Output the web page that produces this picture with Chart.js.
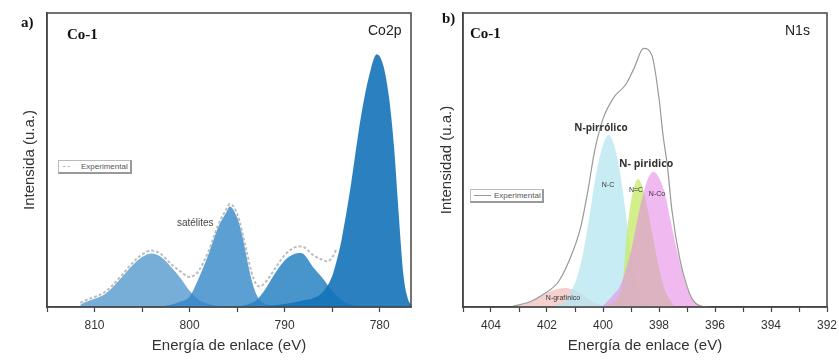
<!DOCTYPE html>
<html>
<head>
<meta charset="utf-8">
<script src="https://cdn.jsdelivr.net/npm/chart.js@4.4.1/dist/chart.umd.min.js"></script>
<style>
  body { margin: 0; background: #fff; }
  #page { position: relative; width: 839px; height: 360px; overflow: hidden; font-family: 'Liberation Sans', Arial, sans-serif; }
  canvas { position: absolute; top: 0; }
  .tag { position: absolute; white-space: nowrap; line-height: 1; }
  .serif { font-family: 'Liberation Serif', 'Times New Roman', serif; font-weight: bold; color: #111; }
  .legend { position: absolute; height: 11px; border: 1px solid #bbb; border-right: 2px solid #999; border-bottom: 2px solid #999; background: #fff; font-size: 8px; color: #555; }
  .legend span { position: absolute; top: 1px; }
  .legend i { position: absolute; top: 5px; height: 0; }
</style>
</head>
<body>
<div id="page">
  <canvas id="co2pChart" width="420" height="360" style="left:0"></canvas>
  <canvas id="n1sChart" width="419" height="360" style="left:420px"></canvas>

  <div class="tag serif" style="left:21px;top:15px;font-size:15px">a)</div>
  <div class="tag serif" style="left:67px;top:27px;font-size:15px">Co-1</div>
  <div class="tag" style="left:368px;top:23px;font-size:14px;color:#222">Co2p</div>
  <div class="legend" style="left:58px;top:160px;width:71px">
    <i style="left:4px;width:7px;border-top:1px dashed #bbb"></i><span style="left:22px">Experimental</span>
  </div>

  <div class="tag serif" style="left:442px;top:11px;font-size:15px">b)</div>
  <div class="tag serif" style="left:470px;top:26px;font-size:15px">Co-1</div>
  <div class="tag" style="left:785px;top:23px;font-size:14px;color:#222">N1s</div>
  <div class="legend" style="left:470px;top:189px;width:71px">
    <i style="left:3px;width:17px;border-top:1px solid #999"></i><span style="left:23px">Experimental</span>
  </div>
</div>
<script>
// Co2p (panel a) - binding energy (eV) and intensity (a.u.)
const co2pExpE = [811.5, 811, 810, 809, 808, 807, 806, 805, 804, 803, 802, 801, 800.3, 800, 799.5, 799, 798, 797, 796, 795.8, 795, 794, 793.5, 793, 792.6, 792, 791, 790, 789, 788.4, 788, 787, 786, 785.5, 785, 784.5];
const co2pExpI = [1.4, 2.2, 3.4, 4.9, 7.7, 11.3, 15.0, 17.9, 19.2, 18.0, 14.8, 12.2, 10.5, 10.2, 10.8, 12.5, 19.0, 27.8, 34.0, 35.0, 31.8, 19.0, 12.0, 7.8, 7.0, 8.5, 13.1, 17.6, 20.2, 20.6, 20.4, 17.7, 16.0, 15.5, 16.8, 20.0];

const sat1E = [811.5, 811, 810, 809, 808, 807, 806, 805, 804, 803, 802, 801, 800, 799, 798, 797, 796];
const sat1I = [0.8, 1.6, 2.8, 4.2, 7.0, 10.6, 14.2, 17.0, 18.2, 17.0, 13.8, 10.0, 5.5, 2.4, 1.0, 0.3, 0];

const p2E = [803, 802, 801, 800, 799, 798, 797, 796, 795.8, 795, 794.5, 794, 793.5, 793, 792.5, 792, 791, 790];
const p2I = [0.2, 0.8, 1.8, 3.5, 10.0, 18.0, 27.0, 33.0, 34.2, 30.5, 25.0, 17.0, 9.5, 4.5, 2.0, 1.0, 0.2, 0];

const sat2E = [795, 794, 793, 792.5, 792, 791, 790, 789, 788.4, 788, 787, 786, 785, 784, 783, 782, 781];
const sat2I = [0.2, 0.8, 2.2, 4.0, 6.2, 11.5, 15.8, 18.0, 18.4, 18.0, 13.5, 9.8, 5.5, 2.3, 0.8, 0.2, 0];

const p4E = [793, 791, 789, 788, 787, 786, 785, 784.5, 784, 783, 782, 781, 780.3, 779.6, 779, 778.5, 778, 777.5, 777, 776.7];
const p4I = [0.2, 0.6, 1.5, 2.3, 3.0, 5.0, 10.5, 16.0, 23.0, 42.0, 64.0, 80.0, 86.0, 82.0, 71.0, 55.0, 32.0, 11.0, 2.5, 1.0];

const co2pNotes = ['satélites'];
const co2pNoteE = [799.4];
const co2pNoteI = [28.6];

// N1s (panel b)
const n1sExpE = [403.2, 402.6, 402.1, 401.6, 401.2, 400.8, 400.55, 400.3, 400.0, 399.6, 399.2, 398.9, 398.55, 398.25, 398, 397.85, 397.7, 397.54, 397.25, 397, 396.8, 396.5, 396.2];
const n1sExpI = [0.3, 1.8, 4.5, 8.5, 16.0, 27.0, 39.0, 53.0, 64.0, 71.5, 75.5, 81.0, 88.0, 85.5, 71.0, 58.0, 48.0, 33.0, 16.0, 7.0, 2.5, 0.3, 0];

const nGrafE = [403.2, 402.8, 402.4, 402, 401.6, 401.35, 401.1, 400.8, 400.5, 400.2, 399.8];
const nGrafI = [0, 1.0, 2.8, 4.8, 6.2, 6.5, 6.0, 4.5, 2.6, 1.0, 0.2];

const nCE = [401.7, 401.3, 401.1, 400.9, 400.7, 400.5, 400.25, 400.0, 399.8, 399.6, 399.4, 399.2, 399.0, 398.8, 398.5, 398.2];
const nCI = [0.5, 2.5, 6.0, 11.0, 19.0, 30.0, 45.0, 55.0, 58.5, 55.0, 46.0, 33.0, 18.0, 8.0, 2.0, 0];

const nDblE = [399.8, 399.5, 399.3, 399.15, 399.0, 398.85, 398.75, 398.6, 398.4, 398.1, 397.8, 397.5];
const nDblI = [0.5, 3.0, 8.0, 25.0, 36.0, 42.0, 43.5, 41.0, 33.0, 18.0, 6.0, 1.0];

const nCoE = [400.0, 399.6, 399.4, 399.0, 398.7, 398.4, 398.2, 398.0, 397.8, 397.6, 397.4, 397.2, 397.0, 396.8, 396.6, 396.4];
const nCoI = [0.3, 4.5, 7.0, 19.0, 33.0, 43.5, 46.0, 44.0, 39.0, 30.0, 21.0, 13.0, 6.5, 2.5, 0.8, 0];

const n1sNotes = ['N-pirrólico', 'N- piridico', 'N-C', 'N=C', 'N-Co', 'N-grafínico'];
const n1sNoteE = [400.07, 398.46, 399.82, 398.82, 398.07, 401.43];
const n1sNoteI = [60.9, 48.6, 41.5, 39.8, 38.4, 3.1];
const n1sNoteFont = ['bold 10px "Open Sans"', 'bold 10.5px "Open Sans"', '7px "Liberation Sans"', '7px "Liberation Sans"', '7px "Liberation Sans"', '7px "Liberation Sans"'];

Chart.defaults.font.family = "'Liberation Sans', Arial, sans-serif";
Chart.defaults.color = '#333';

const pts = (xs, ys) => xs.map((x, i) => ({ x, y: ys[i] }));

const peak = (xs, ys, color) => ({
  data: pts(xs, ys),
  backgroundColor: color,
  borderWidth: 0,
  fill: 'origin',
  pointRadius: 0,
  cubicInterpolationMode: 'monotone'
});

const framePlugin = {
  id: 'frame',
  afterDraw(chart) {
    const { ctx, chartArea: a } = chart;
    ctx.save();
    ctx.strokeStyle = '#444';
    ctx.lineWidth = 1.5;
    ctx.strokeRect(a.left, a.top, a.right - a.left, a.bottom - a.top);
    ctx.restore();
  }
};

const notesPlugin = (texts, xs, ys, fonts, color) => ({
  id: 'notes',
  afterDatasetsDraw(chart) {
    const { ctx, scales: { x, y } } = chart;
    ctx.save();
    ctx.textAlign = 'center';
    ctx.textBaseline = 'middle';
    texts.forEach((t, i) => {
      ctx.font = fonts[i];
      ctx.fillStyle = color;
      ctx.fillText(t, x.getPixelForValue(xs[i]), y.getPixelForValue(ys[i]));
    });
    ctx.restore();
  }
});

const xAxis = (min, max, step, major) => ({
  type: 'linear',
  reverse: true,
  min, max,
  afterFit: s => {
    s.height = 53;
    s.paddingLeft = 0;
    s.paddingRight = 0;
  },
  ticks: {
    stepSize: step,
    includeBounds: false,
    autoSkip: false,
    maxRotation: 0,
    padding: 6,
    font: { size: 12 },
    color: '#333',
    callback: v => (Math.round(v) % major === 0 ? v : '')
  },
  grid: { drawOnChartArea: false, drawTicks: true, tickLength: 5, tickColor: '#444', tickWidth: 1.2 },
  border: { display: true, color: '#444', width: 1.5 },
  title: { display: true, text: 'Energía de enlace (eV)', font: { size: 15 }, color: '#333', padding: { top: 0, bottom: 5 } }
});

const yAxis = (width, text, gap) => ({
  min: 0, max: 100,
  afterFit: s => { s.width = width; },
  ticks: { display: false },
  grid: { display: false },
  border: { display: true, color: '#444', width: 1.5 },
  title: { display: true, text, font: { size: 15 }, color: '#333', padding: { top: gap, bottom: 0 } }
});

const baseOptions = (x, y, right) => ({
  responsive: false,
  animation: false,
  layout: { padding: { top: 13, right, left: 0, bottom: 0 } },
  plugins: { legend: { display: false }, tooltip: { enabled: false } },
  scales: { x, y }
});

document.addEventListener('DOMContentLoaded', () => {
  new Chart(document.getElementById('co2pChart'), {
    type: 'line',
    data: {
      datasets: [
        {
          data: pts(co2pExpE, co2pExpI),
          borderColor: 'rgba(185,185,185,0.95)',
          borderWidth: 2,
          borderDash: [3, 2],
          fill: false,
          pointRadius: 0,
          cubicInterpolationMode: 'monotone'
        },
        peak(p4E, p4I, 'rgba(20,115,185,0.9)'),
        peak(sat2E, sat2I, 'rgba(40,130,195,0.85)'),
        peak(p2E, p2I, 'rgba(50,135,200,0.8)'),
        peak(sat1E, sat1I, 'rgba(60,140,200,0.7)')
      ]
    },
    options: baseOptions(xAxis(776.7, 815, 5, 10), yAxis(47, 'Intensida (u.a.)', 21), 9),
    plugins: [framePlugin, notesPlugin(co2pNotes, co2pNoteE, co2pNoteI, ['10px "Liberation Sans"'], '#444')]
  });

  new Chart(document.getElementById('n1sChart'), {
    type: 'line',
    data: {
      datasets: [
        {
          data: pts(n1sExpE, n1sExpI),
          borderColor: '#999',
          borderWidth: 1.2,
          fill: false,
          pointRadius: 0,
          cubicInterpolationMode: 'monotone'
        },
        peak(nCoE, nCoI, 'rgba(230,140,230,0.6)'),
        peak(nDblE, nDblI, 'rgba(200,235,110,0.8)'),
        peak(nCE, nCI, 'rgba(180,230,240,0.75)'),
        peak(nGrafE, nGrafI, 'rgba(240,190,185,0.7)')
      ]
    },
    options: baseOptions(xAxis(392, 405, 1, 2), yAxis(43, 'Intensidad (u.a.)', 18), 12),
    plugins: [framePlugin, notesPlugin(n1sNotes, n1sNoteE, n1sNoteI, n1sNoteFont, '#333')]
  });
});
</script>
</body>
</html>
